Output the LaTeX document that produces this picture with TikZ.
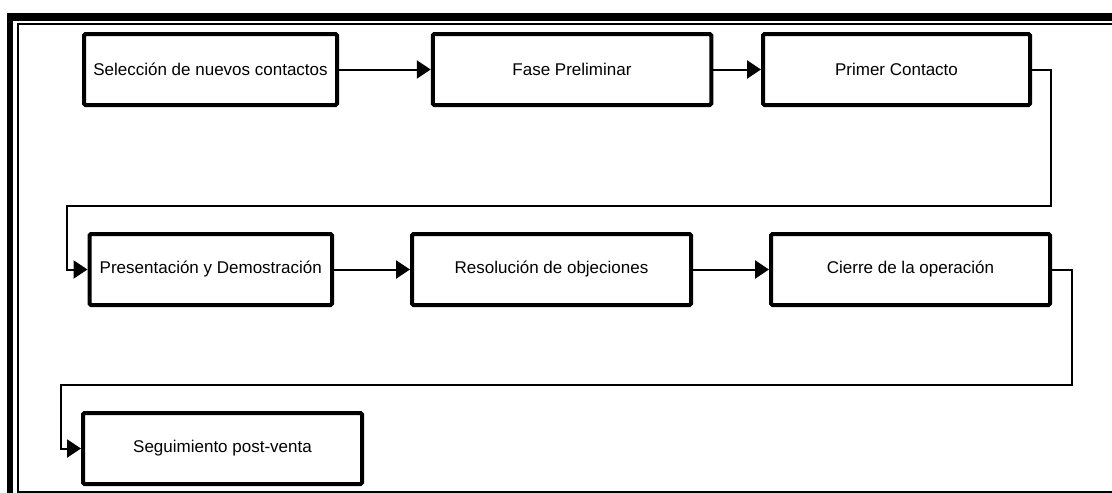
\documentclass[tikz,border=0pt]{standalone}
\usepackage{fontspec}
\setmainfont{Liberation Sans}
\usetikzlibrary{arrows.meta}
\begin{document}
\begin{tikzpicture}[x=1pt,y=-1pt,
  stepbox/.style={draw,line width=4pt,rounded corners=1.5pt,inner sep=0pt,
    minimum height=71pt,font=\fontsize{17}{20}\selectfont},
  conn/.style={line width=2pt,-{Triangle[length=14pt,width=18pt]}},
  frame/.style={line width=2pt}]
\useasboundingbox (0,0) rectangle (1112,493);
% page frame: heavy rule top and left, light rule inside
\fill (7.3,13) rectangle (1112,20.7);
\fill (7.3,13) rectangle (13.3,493);
\draw[frame] (1112,24) -| (17.5,492) -- (1112,492);
% first row
\node[stepbox,minimum width=253pt] (b1) at (210.5,69.5) {Selección de nuevos contactos};
\node[stepbox,minimum width=278.5pt] (b2) at (572,69.5) {Fase Preliminar};
\node[stepbox,minimum width=267pt] (b3) at (896.5,69.5) {Primer Contacto};
% second row
\node[stepbox,minimum width=242.5pt] (b4) at (210.75,269.5) {Presentación y Demostración};
\node[stepbox,minimum width=279pt] (b5) at (551.5,269.5) {Resolución de objeciones};
\node[stepbox,minimum width=279pt] (b6) at (910.5,269.5) {Cierre de la operación};
% third row
\node[stepbox,minimum width=279pt] (b7) at (222.5,448.5) {Seguimiento post-venta};
% bends of the return lines
\coordinate (k1) at (1051,206);
\coordinate (k2) at (67,206);
\coordinate (k3) at (1072,385);
\coordinate (k4) at (61,385);
% connectors
\draw[conn] (b1) -- (b2);
\draw[conn] (b2) -- (b3);
\draw[conn] (b3.east) -| (k1) -- (k2) |- (b4.west);
\draw[conn] (b4) -- (b5);
\draw[conn] (b5) -- (b6);
\draw[conn] (b6.east) -| (k3) -- (k4) |- (b7.west);
\end{tikzpicture}
\end{document}
